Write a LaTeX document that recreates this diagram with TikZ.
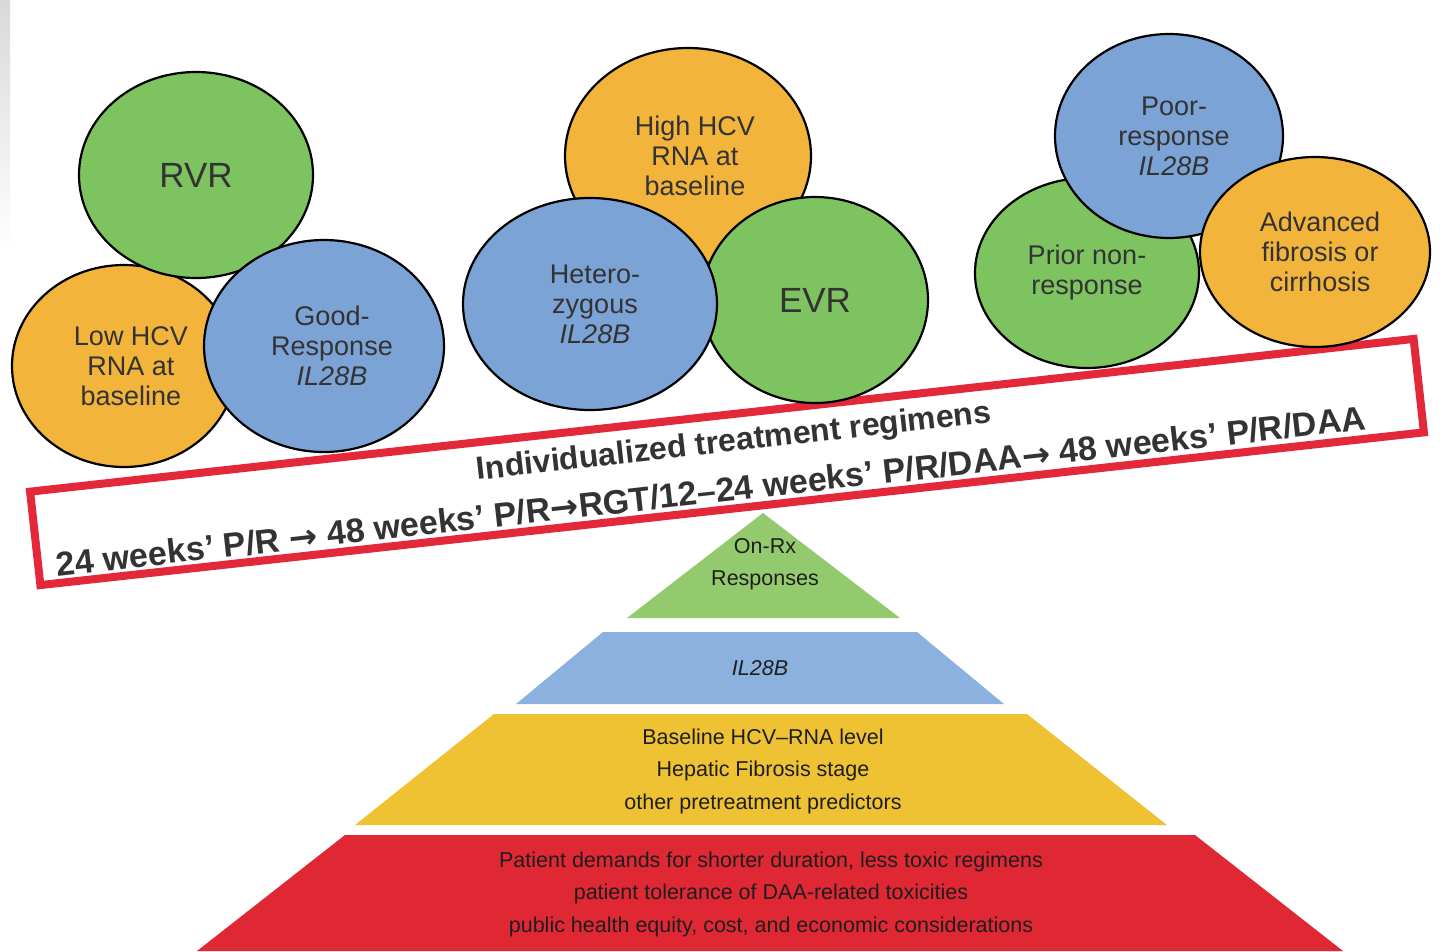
\documentclass[tikz,border=0pt]{standalone}
\usepackage{fontspec}
\setmainfont{Liberation Sans}
\newfontfamily\arrowfont{DejaVu Sans}
\newcommand{\harr}{{\arrowfont\bfseries →}}
\usetikzlibrary{shapes.geometric}
\definecolor{cgreen}{HTML}{7DC35F}
\definecolor{corange}{HTML}{F2B43A}
\definecolor{cblue}{HTML}{7CA3D5}
\definecolor{pgreen}{HTML}{94CA6E}
\definecolor{pblue}{HTML}{8BB2DE}
\definecolor{pyellow}{HTML}{EEC233}
\definecolor{pred}{HTML}{E02834}
\definecolor{rectred}{HTML}{E3283A}
\definecolor{txtgray}{HTML}{333333}
\definecolor{ptxt}{HTML}{1E1E1E}
\begin{document}
\begin{tikzpicture}[x=1pt,y=-1pt,
  bub/.style={ellipse, draw=black, line width=2.2pt, inner sep=0pt, align=center,
    text=txtgray, font=\fontsize{27}{30}\selectfont},
  big/.style={font=\fontsize{35}{38}\selectfont},
  ptext/.style={align=center, text=ptxt, font=\fontsize{21.5}{32.5}\selectfont},
  rtext/.style={text=txtgray, rotate=6.4, inner sep=0pt}
]
\useasboundingbox (0,0) rectangle (1447,951);
\fill[white] (0,0) rectangle (1447,951);
\shade[top color=gray!30, bottom color=white] (0,0) rectangle (10,250);

% pyramid
\fill[pgreen] (763,513) -- (900,618) -- (627,618) -- cycle;
\fill[pblue] (603,632) -- (917,632) -- (1004,704) -- (516,704) -- cycle;
\fill[pyellow] (494,714) -- (1027,714) -- (1167,825) -- (355,825) -- cycle;
\fill[pred] (345,835) -- (1195,835) -- (1343,951) -- (197,951) -- cycle;

\node[ptext] (onrx) at (765,564) {On-Rx\\Responses};
\node[ptext, font=\itshape\fontsize{21.5}{24}\selectfont] (il) at (760,668) {IL28B};
\node[ptext] (base) at (763,771) {Baseline HCV--RNA level\\Hepatic Fibrosis stage\\other pretreatment predictors};
\node[ptext] (pat) at (771,894) {Patient demands for shorter duration, less toxic regimens\\patient tolerance of DAA-related toxicities\\public health equity, cost, and economic considerations};

% red frame
\node[draw=rectred, fill=white, line width=8pt, rotate=6.3, minimum width=1392pt, minimum height=94pt, inner sep=0pt] (frame) at (727,462) {};
\node[rtext, font=\bfseries\fontsize{32}{34}\selectfont] (l1) at (734,443) {Individualized treatment regimens};
\node[rtext, font=\bfseries\fontsize{34}{36}\selectfont] (l2) at (711,491) {24 weeks’ P/R \harr\ 48 weeks’ P/R\harr RGT/12–24 weeks’ P/R/DAA\harr\ 48 weeks’ P/R/DAA};

% left group
\node[bub, fill=corange, minimum width=224pt, minimum height=202pt] (low) at (124,366) {\hspace*{14pt}Low HCV\\\hspace*{14pt}RNA at\\\hspace*{14pt}baseline};
\node[bub, big, fill=cgreen, minimum width=234pt, minimum height=206pt] (rvr) at (196,175) {RVR};
\node[bub, fill=cblue, minimum width=240pt, minimum height=212pt] (good) at (324,346) {\hspace*{16pt}Good-\\\hspace*{16pt}Response\\\hspace*{16pt}\itshape IL28B};

% middle group
\node[bub, fill=corange, minimum width=246pt, minimum height=216pt] (high) at (688,156) {\hspace*{14pt}High HCV\\\hspace*{14pt}RNA at\\\hspace*{14pt}baseline};
\node[bub, big, fill=cgreen, minimum width=226pt, minimum height=206pt] (evr) at (815,300) {EVR};
\node[bub, fill=cblue, minimum width=254pt, minimum height=212pt] (het) at (590,304) {\hspace*{10pt}Hetero-\\\hspace*{10pt}zygous\\\hspace*{10pt}\itshape IL28B};

% right group
\node[bub, fill=cgreen, minimum width=224pt, minimum height=190pt] (prior) at (1087,273) {Prior non-\\response};
\node[bub, fill=cblue, minimum width=228pt, minimum height=204pt] (poor) at (1169,136) {\hspace*{10pt}Poor-\\\hspace*{10pt}response\\\hspace*{10pt}\itshape IL28B};
\node[bub, fill=corange, minimum width=230pt, minimum height=190pt] (adv) at (1315,252) {\hspace*{10pt}Advanced\\\hspace*{10pt}fibrosis or\\\hspace*{10pt}cirrhosis};
\end{tikzpicture}
\end{document}
